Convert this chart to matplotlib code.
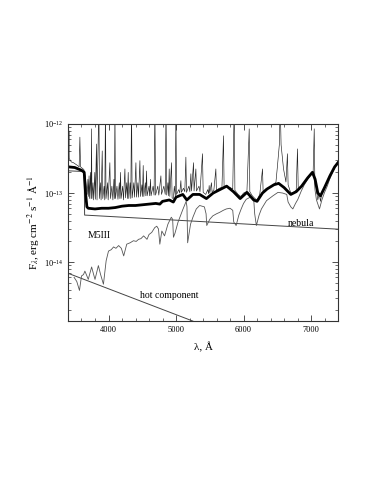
import numpy as np
import matplotlib
matplotlib.use("Agg")
import matplotlib.pyplot as plt
from matplotlib.ticker import MultipleLocator, LogLocator, NullFormatter, FixedLocator

plt.rcParams.update({
    "font.family": "serif",
    "font.serif": ["Liberation Serif", "DejaVu Serif"],
    "mathtext.fontset": "stix",
    "font.size": 7,
    "axes.linewidth": 0.8,
    "axes.edgecolor": "#333333",
})

# ---- data: wavelength (A), log10 flux ----
# observed spectrum (thin black), emission-line peaks included; -11.7 = off the top
obs_wl = [3400, 3403, 3406, 3410, 3414, 3418, 3430, 3450, 3480, 3510, 3540, 3565, 3576, 3586,
          3610, 3635, 3655, 3670, 3685, 3695, 3703, 3712, 3720, 3734, 3742, 3748, 3755, 3770,
          3780, 3797, 3805, 3822, 3830, 3858, 3866, 3880, 3890, 3907, 3915, 3935, 3945, 3955,
          3963, 3985, 3995, 4020, 4030, 4050, 4065, 4080, 4088, 4095, 4103, 4125, 4140, 4160,
          4168, 4178, 4186, 4210, 4222, 4243, 4252, 4270, 4280, 4292, 4300, 4320, 4330, 4341,
          4350, 4375, 4385, 4406, 4415, 4435, 4445, 4465, 4475, 4495, 4503, 4514, 4523, 4545,
          4553, 4563, 4572, 4600, 4610, 4622, 4630, 4660, 4675, 4687, 4697, 4730, 4745, 4776,
          4785, 4820, 4840, 4852, 4862, 4880, 4890, 4899, 4908, 4933, 4942, 4960, 4975, 4990,
          4998, 5008, 5040, 5055, 5072, 5080, 5110, 5130, 5146, 5155, 5190, 5205, 5220, 5230,
          5259, 5267, 5294, 5303, 5340, 5355, 5392, 5402, 5440, 5470, 5482, 5491, 5500, 5525,
          5533, 5560, 5590, 5598, 5640, 5680, 5703, 5712, 5750, 5800, 5840, 5862, 5872, 5920,
          5960, 6000, 6050, 6084, 6093, 6130, 6170, 6200, 6240, 6281, 6290, 6330, 6380, 6430,
          6480, 6503, 6530, 6543, 6556, 6592, 6628, 6650, 6660, 6700, 6740, 6780, 6799, 6810,
          6860, 6910, 6950, 7000, 7030, 7047, 7056, 7080, 7100, 7120, 7140, 7160, 7190, 7220,
          7250, 7280, 7310, 7340, 7370, 7400]
obs_logf = [-11.8, -12.4, -11.9, -12.45, -12.1, -12.5, -12.52, -12.55, -12.56, -12.58, -12.6,
            -12.62, -12.19, -12.62, -12.64, -12.66, -12.75, -12.9, -13.02, -12.8, -13.05, -12.75,
            -13.08, -12.7, -13.08, -12.07, -13.08, -12.85, -13.1, -12.7, -13.09, -12.29, -13.1,
            -11.7, -13.08, -12.85, -13.1, -12.39, -13.08, -12.9, -13.1, -11.7, -13.08, -12.85,
            -13.1, -12.56, -13.08, -12.9, -13.1, -12.8, -13.08, -11.7, -13.08, -12.9, -13.09,
            -12.85, -13.08, -12.7, -13.08, -12.9, -13.1, -12.65, -13.07, -12.85, -13.08, -12.7,
            -13.08, -12.85, -13.08, -11.7, -13.07, -12.85, -13.06, -12.56, -13.06, -12.85, -13.06,
            -12.53, -13.05, -12.88, -13.05, -12.6, -13.05, -12.85, -13.04, -12.68, -13.04, -12.9,
            -13.04, -12.8, -13.04, -12.9, -13.03, -11.7, -13.03, -12.9, -13.03, -12.75, -13.02,
            -12.9, -13.02, -11.7, -13.03, -12.85, -13.04, -12.65, -13.05, -12.56, -13.07, -13.08,
            -12.9, -13.05, -11.7, -13.02, -12.95, -13.0, -12.82, -12.99, -12.93, -12.98, -12.48,
            -12.99, -12.9, -12.98, -12.72, -12.97, -12.56, -12.97, -12.65, -12.97, -12.9, -12.98,
            -12.43, -12.99, -13.02, -12.95, -13.01, -12.89, -13.0, -12.85, -12.98, -12.96, -12.65,
            -12.96, -12.93, -12.92, -12.17, -12.92, -12.9, -12.92, -12.94, -11.7, -12.96, -13.02,
            -13.05, -13.0, -12.98, -12.07, -12.98, -13.04, -13.08, -13.1, -13.02, -12.65, -12.98,
            -12.94, -12.92, -12.89, -12.84, -12.6, -12.3, -11.7, -12.3, -12.65, -12.84, -12.43,
            -12.88, -13.0, -12.99, -12.96, -12.36, -12.94, -12.9, -12.83, -12.78, -12.72, -12.72,
            -12.07, -12.8, -12.95, -13.1, -13.0, -13.12, -13.0, -12.95, -12.88, -12.82, -12.76,
            -12.7, -12.64, -12.58, -12.54]

# model sum (thick black)
model_wl = [3400, 3500, 3600, 3640, 3660, 3680, 3700, 3800, 3900, 4000, 4100, 4200, 4300, 4400,
            4500, 4600, 4700, 4760, 4800, 4900, 4960, 5000, 5100, 5160, 5250, 5350, 5450, 5550,
            5650, 5750, 5850, 5950, 6050, 6150, 6200, 6280, 6350, 6450, 6520, 6600, 6700, 6780,
            6860, 6950, 7020, 7060, 7100, 7140, 7200, 7280, 7350, 7400]
model_logf = [-12.62, -12.63, -12.67, -12.7, -13.0, -13.2, -13.22, -13.23, -13.22, -13.22,
              -13.21, -13.19, -13.18, -13.18, -13.17, -13.16, -13.15, -13.16, -13.12, -13.1,
              -13.13, -13.06, -13.02, -13.1, -13.02, -13.02, -13.08, -13.0, -12.95, -12.9,
              -12.98, -13.08, -12.99, -13.1, -13.12, -13.0, -12.94, -12.88, -12.86, -12.92,
              -13.02, -12.98, -12.9, -12.78, -12.7, -12.8, -13.0, -13.04, -12.92, -12.75,
              -12.62, -12.56]

# M5III giant (thin grey)
m5_wl = [3490, 3530, 3570, 3600, 3630, 3650, 3680, 3700, 3750, 3780, 3800, 3850, 3880, 3925,
         3965, 4000, 4040, 4075, 4110, 4150, 4190, 4225, 4270, 4320, 4370, 4410, 4445, 4480,
         4520, 4570, 4600, 4640, 4685, 4715, 4740, 4760, 4790, 4830, 4880, 4930, 4950, 4962,
         4985, 5030, 5100, 5150, 5162, 5172, 5215, 5250, 5300, 5350, 5420, 5445, 5455, 5500,
         5545, 5600, 5645, 5700, 5745, 5800, 5840, 5855, 5890, 5930, 5965, 6000, 6040, 6100,
         6150, 6165, 6190, 6230, 6265, 6340, 6435, 6510, 6580, 6640, 6660, 6700, 6730, 6770,
         6805, 6855, 6900, 6950, 7000, 7040, 7058, 7080, 7125, 7160, 7200, 7240, 7275, 7320,
         7375, 7400]
m5_logf = [-14.22, -14.28, -14.41, -14.2, -14.18, -14.13, -14.2, -14.25, -14.07, -14.18, -14.25,
           -14.05, -14.17, -14.32, -13.98, -13.84, -13.82, -13.78, -13.8, -13.76, -13.8, -13.91,
           -13.74, -13.72, -13.69, -13.7, -13.67, -13.66, -13.62, -13.67, -13.6, -13.57, -13.5,
           -13.48, -13.52, -13.74, -13.55, -13.62, -13.45, -13.35, -13.38, -13.64, -13.58, -13.42,
           -13.24, -13.12, -13.2, -13.72, -13.45, -13.35, -13.23, -13.18, -13.2, -13.3, -13.47,
           -13.38, -13.33, -13.3, -13.28, -13.25, -13.23, -13.22, -13.25, -13.42, -13.47, -13.32,
           -13.23, -13.15, -13.09, -13.06, -13.08, -13.3, -13.47, -13.32, -13.23, -13.11, -13.04,
           -12.99, -13.0, -13.02, -13.13, -13.2, -13.23, -13.15, -13.09, -12.97, -12.88, -12.8,
           -12.73, -12.69, -12.95, -13.1, -13.23, -13.1, -12.99, -12.9, -12.8, -12.7, -12.58,
           -12.55]

# nebular continuum (Balmer jump) and hot component
neb_wl = [3400, 3640, 3646, 7400]
neb_flux = [2.1e-13, 2.05e-13, 4.8e-14, 3.0e-14]
hot_wl = [3400, 5250]
hot_flux = [6.9e-15, 1.4e-15]

fig = plt.figure(figsize=(3.82, 4.94), dpi=100)
ax = fig.add_axes([0.178, 0.350, 0.707, 0.399])

ax.plot(neb_wl, neb_flux, color="#444444", lw=0.7)
ax.plot(hot_wl, hot_flux, color="#444444", lw=0.7)
ax.plot(m5_wl, 10 ** np.array(m5_logf), color="#555555", lw=0.6)
ax.plot(obs_wl, 10 ** np.array(obs_logf), color="#222222", lw=0.45)
ax.plot(model_wl, 10 ** np.array(model_logf), color="black", lw=2.0)

ax.set_yscale("log")
ax.set_xlim(3400, 7400)
ax.set_ylim(1.4e-15, 1e-12)

ax.xaxis.set_major_locator(MultipleLocator(1000))
ax.xaxis.set_minor_locator(MultipleLocator(200))
ax.yaxis.set_major_locator(FixedLocator([1e-14, 1e-13, 1e-12]))
ax.yaxis.set_minor_locator(LogLocator(base=10, subs=np.arange(2, 10), numticks=10))
ax.yaxis.set_minor_formatter(NullFormatter())
ax.tick_params(which="both", direction="in", top=True, right=True, labelsize=6, color="#333333")
ax.tick_params(which="major", length=4, width=0.6)
ax.tick_params(which="minor", length=2, width=0.5)

ax.text(3860, 10 ** -13.62, "M5III", fontsize=7, ha="center", va="center")
ax.text(6850, 10 ** -13.44, "nebula", fontsize=7, ha="center", va="center")
ax.text(4900, 10 ** -14.49, "hot component", fontsize=7, ha="center", va="center")

ax.set_xlabel("λ, Å", fontsize=8, labelpad=6)
ax.set_ylabel(r"F$_\lambda$, erg cm$^{-2}$ s$^{-1}$ Å$^{-1}$", fontsize=8, labelpad=1)

fig.savefig("out.png", dpi=100, facecolor="white")
